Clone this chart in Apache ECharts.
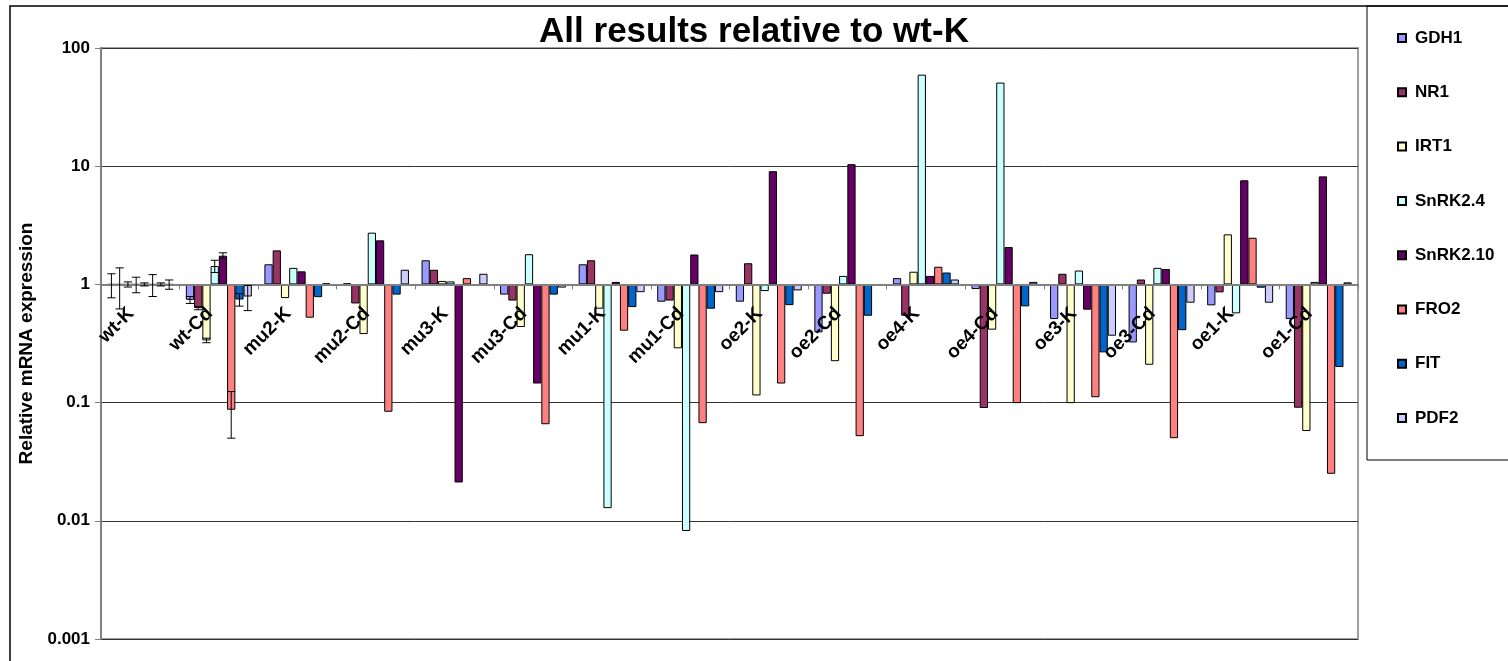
<!DOCTYPE html>
<html>
<head>
<meta charset="utf-8">
<script src="https://cdn.jsdelivr.net/npm/echarts@6/dist/echarts.min.js"></script>
<style>
  html, body { margin: 0; padding: 0; background: #fff; }
  #chart { width: 1508px; height: 661px; }
</style>
</head>
<body>
<div id="chart"></div>
<script>
// Samples along the category axis
const categories = ['wt-K', 'wt-Cd', 'mu2-K', 'mu2-Cd', 'mu3-K', 'mu3-Cd', 'mu1-K', 'mu1-Cd',
                    'oe2-K', 'oe2-Cd', 'oe4-K', 'oe4-Cd', 'oe3-K', 'oe3-Cd', 'oe1-K', 'oe1-Cd'];

// Genes (one bar series each)
const genes = ['GDH1', 'NR1', 'IRT1', 'SnRK2.4', 'SnRK2.10', 'FRO2', 'FIT', 'PDF2'];

// Relative expression, one value per sample
const GDH1     = [1, 0.74, 1.48, 1.02, 1.6, 0.82, 1.48, 0.714, 0.714, 0.393, 1.13, 0.913, 0.509, 0.323, 0.665, 0.509];
const NR1      = [1, 0.63, 1.94, 0.69, 1.33, 0.73, 1.6, 0.73, 1.51, 0.834, 0.543, 0.09, 1.23, 1.10, 0.856, 0.0905];
const IRT1     = [1, 0.336, 0.766, 0.38, 1.07, 0.436, 0.623, 0.288, 0.115, 0.224, 1.28, 0.414, 0.099, 0.209, 2.65, 0.0575];
const SnRK2_4  = [1, 1.43, 1.38, 2.74, 1.06, 1.8, 0.0128, 0.0082, 0.878, 1.18, 59.5, 51, 1.31, 1.38, 0.569, 1.05];
const SnRK2_10 = [1, 1.75, 1.29, 2.36, 0.0211, 0.145, 1.05, 1.79, 9.07, 10.4, 1.18, 2.07, 0.611, 1.35, 7.6, 8.2];
const FRO2     = [1, 0.087, 0.523, 0.0837, 1.13, 0.0656, 0.406, 0.067, 0.145, 0.052, 1.41, 0.099, 0.111, 0.05, 2.48, 0.025];
const FIT      = [1, 0.745, 0.78, 0.82, 0.98, 0.82, 0.643, 0.623, 0.668, 0.543, 1.26, 0.652, 0.266, 0.41, 0.938, 0.2];
const PDF2     = [1, 0.79, 1.02, 1.33, 1.23, 0.94, 0.86, 0.86, 0.89, 0.97, 1.10, 1.05, 0.368, 0.70, 0.70, 1.04];

// Error (± absolute) for the two wild-type samples, in gene order
const errWtK  = [0.23, 0.38, 0.05, 0.15, 0.03, 0.21, 0.03, 0.09];
const errWtCd = [0.05, 0.02, 0.015, 0.17, 0.10, 0.037, 0.09, 0.19];

// Y-axis tick labels, 10^-3 .. 10^2
const yTickLabels = ['0.001', '0.01', '0.1', '1', '10', '100'];

const geneValues = [GDH1, NR1, IRT1, SnRK2_4, SnRK2_10, FRO2, FIT, PDF2];
const colors = ['#9999FF', '#993366', '#FFFFCC', '#CCFFFF', '#660066', '#FF8080', '#0066CC', '#CCCCFF'];

const FONT = '"Liberation Sans", Arial, sans-serif';
const CAT_GAP = 0.16;

// error bar records: [categoryIndex, geneIndex, value, error]
const errorData = [];
[errWtK, errWtCd].forEach((errs, c) => {
  errs.forEach((e, s) => errorData.push([c, s, geneValues[s][c], e]));
});

function renderErrorBar(params, api) {
  const c = api.value(0), s = api.value(1), v = api.value(2), e = api.value(3);
  const band = api.coord([1, 1])[0] - api.coord([0, 1])[0];
  const groupW = band * (1 - CAT_GAP);
  const w = groupW / genes.length;
  const x = api.coord([c, v])[0] - groupW / 2 + (s + 0.5) * w;
  const top = api.coord([c, v + e])[1];
  const bot = api.coord([c, v - e])[1];
  const half = w / 2;
  const st = { stroke: '#000', lineWidth: 1 };
  return {
    type: 'group',
    children: [
      { type: 'line', shape: { x1: x, y1: top, x2: x, y2: bot }, style: st },
      { type: 'line', shape: { x1: x - half, y1: top, x2: x + half, y2: top }, style: st },
      { type: 'line', shape: { x1: x - half, y1: bot, x2: x + half, y2: bot }, style: st }
    ]
  };
}

const chart = echarts.init(document.getElementById('chart'), null, { renderer: 'canvas' });

const barSeries = genes.map((g, i) => ({
  name: g,
  type: 'bar',
  data: geneValues[i],
  barGap: '0%',
  barCategoryGap: (CAT_GAP * 100) + '%',
  itemStyle: { color: colors[i], borderColor: '#000', borderWidth: 1 },
  emphasis: { disabled: true },
  animation: false
}));

const option = {
  backgroundColor: '#fff',
  animation: false,
  textStyle: { fontFamily: FONT },
  title: {
    text: 'All results relative to wt-K',
    left: 'center',
    top: 15,
    padding: 0,
    textStyle: { fontFamily: FONT, fontSize: 35, fontWeight: 'bold', color: '#000' }
  },
  legend: {
    data: genes,
    orient: 'vertical',
    left: 1397,
    top: 29,
    itemWidth: 8,
    itemHeight: 8,
    itemGap: 36.3,
    icon: 'rect',
    padding: 0,
    textStyle: { fontFamily: FONT, fontSize: 17, fontWeight: 'bold', color: '#000', lineHeight: 18, padding: [0, 0, 0, 4] }
  },
  grid: {
    left: 101,
    top: 48,
    right: 150,
    bottom: 22,
    containLabel: false,
    outerBoundsMode: 'none',
    show: true,
    borderColor: '#a0a0a0',
    borderWidth: 2,
    backgroundColor: 'transparent'
  },
  xAxis: {
    type: 'category',
    data: categories,
    position: 'bottom',
    offset: 0,
    z: 5,
    axisLine: { onZero: false, lineStyle: { color: '#808080', width: 2 } },
    axisTick: { show: true, length: 5, lineStyle: { color: '#808080', width: 1 } },
    axisLabel: {
      interval: 0,
      rotate: 45,
      margin: 17,
      padding: [0, 13, 0, 0],
      fontFamily: FONT,
      fontSize: 19,
      fontWeight: 'bold',
      color: '#000'
    },
    splitLine: { show: false }
  },
  yAxis: {
    type: 'log',
    logBase: 10,
    min: 0.001,
    max: 100,
    name: 'Relative mRNA expression',
    nameLocation: 'middle',
    nameRotate: 90,
    nameGap: 64,
    nameTextStyle: { fontFamily: FONT, fontSize: 19, fontWeight: 'bold', color: '#000' },
    axisLine: { show: true, lineStyle: { color: '#808080', width: 2 } },
    axisTick: { show: true, length: 6, lineStyle: { color: '#808080', width: 1 } },
    minorTick: { show: false },
    axisLabel: {
      margin: 11,
      fontFamily: FONT,
      fontSize: 17,
      fontWeight: 'bold',
      color: '#000',
      formatter: v => yTickLabels[Math.round(Math.log10(v)) + 3]
    },
    splitLine: { show: true, lineStyle: { color: '#333', width: 1 } }
  },
  graphic: [
    // outer chart frame
    { type: 'rect', silent: true, z: 100,
      shape: { x: 10, y: 6, width: 1600, height: 700 },
      style: { fill: 'none', stroke: '#000', lineWidth: 1.5 } },
    // legend frame
    { type: 'rect', silent: true, z: 100,
      shape: { x: 1367, y: 6, width: 200, height: 454 },
      style: { fill: 'none', stroke: '#000', lineWidth: 1 } }
  ],
  series: barSeries.concat([{
    type: 'custom',
    name: 'error',
    renderItem: renderErrorBar,
    data: errorData,
    encode: { x: 0, y: 2 },
    z: 10,
    silent: true,
    animation: false
  }])
};

chart.setOption(option);

// Move the category axis up to where the value axis passes through 1.
// Repeat a few times so the offset settles once the grid layout is final.
for (let k = 0; k < 4; k++) {
  const yOne = chart.convertToPixel({ yAxisIndex: 0 }, 1);
  const yMin = chart.convertToPixel({ yAxisIndex: 0 }, 0.001);
  chart.setOption({ xAxis: { offset: -(yMin - yOne) } });
}
</script>
</body>
</html>
